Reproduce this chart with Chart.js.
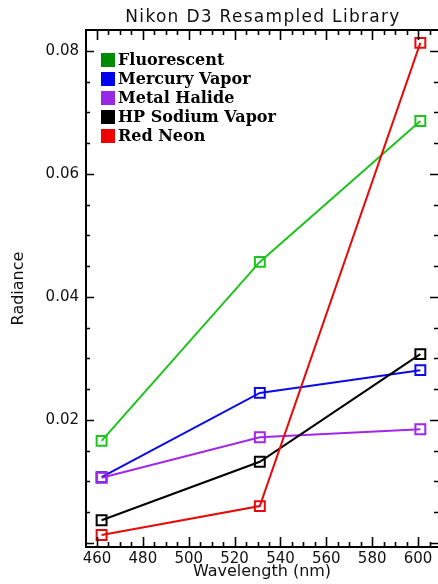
<!DOCTYPE html>
<html><head><meta charset="utf-8">
<script src="https://cdn.jsdelivr.net/npm/chart.js@4/dist/chart.umd.min.js"></script>
<style>html,body{margin:0;padding:0;background:#fff}#wrap{width:438px;height:584px}</style>
</head><body><div id="wrap"><canvas id="c" width="438" height="584"></canvas></div>
<script>
const wavelengths = [462, 531, 601];
const fluorescent = [0.0166, 0.0457, 0.0686];
const mercuryVapor = [0.0107, 0.0244, 0.0281];
const metalHalide = [0.0106, 0.0172, 0.0185];
const hpSodiumVapor = [0.0037, 0.0132, 0.0307];
const redNeon = [0.0013, 0.0060, 0.0813];
const seriesNames = ['Fluorescent', 'Mercury Vapor', 'Metal Halide', 'HP Sodium Vapor', 'Red Neon'];
const xTickLabels = [460, 480, 500, 520, 540, 560, 580, 600];
const yTickLabels = [0.02, 0.04, 0.06, 0.08];
const titleText = 'Nikon D3 Resampled Library';
const xTitle = 'Wavelength (nm)';
const yTitle = 'Radiance';

const seriesValues = [fluorescent, mercuryVapor, metalHalide, hpSodiumVapor, redNeon];
const lineColors = ['rgb(30,195,30)', 'rgb(10,10,235)', 'rgb(160,40,235)', 'rgb(0,0,0)', 'rgb(230,10,10)'];
const boxColors = ['rgb(0,140,0)', 'rgb(0,0,240)', 'rgb(150,40,230)', 'rgb(0,0,0)', 'rgb(240,0,0)'];

const datasets = seriesNames.map((name, i) => ({
  label: name,
  data: wavelengths.map((w, j) => ({x: w, y: seriesValues[i][j]})),
  borderColor: lineColors[i],
  backgroundColor: lineColors[i],
  legendColor: boxColors[i],
  borderWidth: 2,
  tension: 0,
  pointStyle: 'rect',
  pointRadius: 7,
  pointBorderWidth: 2,
  pointBorderColor: lineColors[i],
  pointBackgroundColor: 'rgba(0,0,0,0)',
  order: seriesNames.length - 1 - i,
  clip: false
}));

const frame = {
  id: 'frame',
  afterDatasetsDraw(chart) {
    const ctx = chart.ctx, a = chart.chartArea;
    const xs = chart.scales.x, ys = chart.scales.y;
    ctx.save();
    ctx.strokeStyle = '#000';
    ctx.lineWidth = 2;
    ctx.beginPath();
    ctx.moveTo(a.left, a.top); ctx.lineTo(a.right, a.top);
    ctx.moveTo(a.left, a.top - 1); ctx.lineTo(a.left, a.bottom + 1);
    ctx.moveTo(a.left, a.bottom); ctx.lineTo(a.right, a.bottom);
    ctx.stroke();
    ctx.lineWidth = 1.6;
    ctx.beginPath();
    for (let v = 455; v <= 610; v += 5) {
      const px = Math.round(xs.getPixelForValue(v)) + 0.5;
      if (px < a.left + 1 || px > a.right) continue;
      const major = v % 20 === 0;
      const len = major ? 10 : 5;
      ctx.moveTo(px, a.bottom); ctx.lineTo(px, a.bottom - len);
      ctx.moveTo(px, a.top); ctx.lineTo(px, a.top + len);
    }
    for (let k = 0; k <= 16; k++) {
      const v = k * 0.005;
      const py = Math.round(ys.getPixelForValue(v)) + 0.5;
      if (py > a.bottom - 1 || py < a.top) continue;
      const major = k % 4 === 0;
      const len = major ? 8 : 4;
      ctx.moveTo(a.left, py); ctx.lineTo(a.left + len, py);
      ctx.moveTo(a.right, py); ctx.lineTo(a.right - len, py);
    }
    ctx.stroke();

    ctx.fillStyle = '#111';
    ctx.font = '17px "DejaVu Sans"';
    ctx.letterSpacing = '1.3px';
    ctx.textAlign = 'center';
    ctx.textBaseline = 'middle';
    ctx.fillText(titleText, (a.left + a.right) / 2 + 1, 18);
    ctx.letterSpacing = '0px';

    ctx.textAlign = 'left';
    ctx.font = 'bold 16px "DejaVu Serif"';
    chart.data.datasets.forEach((d, i) => {
      const y = a.top + 30 + i * 19;
      ctx.fillStyle = d.legendColor;
      ctx.fillRect(a.left + 15, y - 7, 14, 14);
      ctx.fillStyle = '#000';
      ctx.fillText(d.label, a.left + 32, y + 1);
    });
    ctx.restore();
  }
};

new Chart(document.getElementById('c'), {
  type: 'line',
  data: {datasets},
  options: {
    responsive: false,
    animation: false,
    layout: {autoPadding: false, padding: {top: 30, right: 0, left: 0, bottom: 0}},
    plugins: {legend: {display: false}, title: {display: false}, tooltip: {enabled: false}},
    scales: {
      x: {
        type: 'linear', min: 455.2, max: 608.7,
        border: {display: false},
        grid: {display: false, drawTicks: false},
        afterBuildTicks: s => { s.ticks = xTickLabels.map(v => ({value: v})); },
        afterFit: s => { s.height = 37; s.paddingLeft = 0; s.paddingRight = 0; },
        ticks: {font: {family: 'DejaVu Sans', size: 15}, color: '#111', padding: 3, maxRotation: 0, autoSkip: false,
                callback: v => String(v)},
        title: {display: true, text: xTitle, color: '#111', font: {family: 'DejaVu Sans', size: 16}, padding: {top: 0, bottom: 3}}
      },
      y: {
        type: 'linear', min: -0.00065, max: 0.0834,
        border: {display: false},
        grid: {display: false, drawTicks: false},
        afterBuildTicks: s => { s.ticks = yTickLabels.map(v => ({value: v})); },
        afterFit: s => { s.width = 86; s.paddingTop = 0; s.paddingBottom = 0; },
        ticks: {font: {family: 'DejaVu Sans', size: 15}, color: '#111', padding: 7, autoSkip: false,
                callback: v => Number(v).toFixed(2)},
        title: {display: true, text: yTitle, color: '#111', font: {family: 'DejaVu Sans', size: 16}, padding: {top: 9, bottom: 0}}
      }
    }
  },
  plugins: [frame]
});
</script>
</body></html>
